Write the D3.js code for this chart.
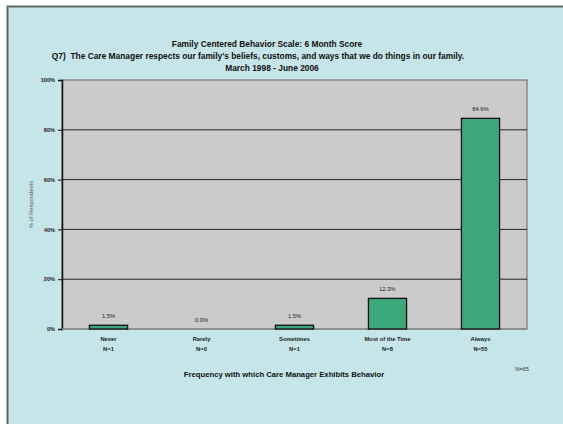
<!DOCTYPE html>
<html>
<head>
<meta charset="utf-8">
<script src="https://cdn.jsdelivr.net/npm/d3@7"></script>
<style>
  html, body { margin: 0; padding: 0; background: #ffffff; }
  svg { display: block; font-family: "Liberation Sans", Arial, sans-serif; }
  text { white-space: pre; }
</style>
</head>
<body>
<svg id="chart" width="563" height="424"></svg>
<script>
// Response categories and results
const categories = ["Never", "Rarely", "Sometimes", "Most of the Time", "Always"];
const counts = [1, 0, 1, 8, 55];
const percents = [1.5, 0.0, 1.5, 12.3, 84.6];
const yTicks = [0, 20, 40, 60, 80, 100];
const titleLines = [
  "Family Centered Behavior Scale: 6 Month Score",
  "Q7)  The Care Manager respects our family's beliefs, customs, and ways that we do things in our family.",
  "March 1998 - June 2006"
];
const xTitle = "Frequency with which Care Manager Exhibits Behavior";
const yTitle = "% of Respondents";
const totalLabel = "N=65";

const svg = d3.select("#chart");
const W = 563, H = 424;
const plot = { left: 62, right: 527, top: 80, bottom: 329 };

// Outer panel
svg.append("rect").attr("x", 0).attr("y", 0).attr("width", W).attr("height", H).attr("fill", "#ffffff");
svg.append("rect")
  .attr("x", 7.5).attr("y", 6.5).attr("width", W + 10).attr("height", H + 10)
  .attr("fill", "#c6e5e8").attr("stroke", "#5b6b6b").attr("stroke-width", 2);

// Titles
const titleG = svg.append("g").attr("font-weight", "bold").attr("font-size", 8.4).attr("fill", "#111")
  .attr("text-anchor", "middle");
const titleX = [267, 258, 272];
const titleY = [44, 56, 68];
titleLines.forEach((t, i) => {
  titleG.append("text").attr("x", titleX[i]).attr("y", titleY[i]).attr("dy", "0.35em").text(t);
});

// Scales
const x = d3.scaleBand().domain(categories).range([plot.left, plot.right])
  .paddingInner(0.59).paddingOuter(0.295);
const y = d3.scaleLinear().domain([0, 100]).range([plot.bottom, plot.top]);

// Plot area
svg.append("rect")
  .attr("x", plot.left).attr("y", plot.top)
  .attr("width", plot.right - plot.left).attr("height", plot.bottom - plot.top)
  .attr("fill", "#cbcbcb").attr("stroke", "#8a8a8a").attr("stroke-width", 1.5);

// Gridlines
svg.append("g").selectAll("line").data(yTicks.filter(d => d > 0 && d < 100)).join("line")
  .attr("x1", plot.left).attr("x2", plot.right)
  .attr("y1", d => y(d)).attr("y2", d => y(d))
  .attr("stroke", "#222").attr("stroke-width", 1);

// Y axis
const yAxis = d3.axisLeft(y).tickValues(yTicks).tickFormat(d => d + "%").tickSize(4).tickPadding(3);
const yg = svg.append("g").attr("transform", `translate(${plot.left},0)`).call(yAxis);
yg.select(".domain").attr("stroke", "#111").attr("stroke-width", 1.5);
yg.selectAll(".tick line").attr("stroke", "#111");
yg.selectAll("text").attr("font-size", 5.6).attr("font-weight", "bold").attr("fill", "#222")
  .attr("font-family", "Liberation Sans, Arial, sans-serif");

// Baseline
svg.append("line").attr("x1", plot.left).attr("x2", plot.right)
  .attr("y1", plot.bottom).attr("y2", plot.bottom)
  .attr("stroke", "#8a8a8a").attr("stroke-width", 1.5);

// Bars
svg.append("g").selectAll("rect").data(categories).join("rect")
  .attr("x", d => x(d))
  .attr("y", (d, i) => y(percents[i]))
  .attr("width", x.bandwidth())
  .attr("height", (d, i) => y(0) - y(percents[i]))
  .attr("fill", "#3ca77b").attr("stroke", "#111").attr("stroke-width", 1.3)
  .attr("display", (d, i) => percents[i] > 0 ? null : "none");

// Value labels
svg.append("g").selectAll("text").data(categories).join("text")
  .attr("x", d => x(d) + x.bandwidth() / 2)
  .attr("y", (d, i) => y(percents[i]) - 9)
  .attr("dy", "0.35em")
  .attr("text-anchor", "middle").attr("font-size", 5.8).attr("fill", "#222")
  .text((d, i) => percents[i].toFixed(1) + "%");

// Category labels with counts
const catG = svg.append("g").attr("text-anchor", "middle").attr("font-size", 5.8)
  .attr("font-weight", "bold").attr("fill", "#222");
categories.forEach((c, i) => {
  const cx = x(c) + x.bandwidth() / 2;
  catG.append("text").attr("x", cx).attr("y", 339).attr("dy", "0.35em").text(c);
  catG.append("text").attr("x", cx).attr("y", 349).attr("dy", "0.35em").text("N=" + counts[i]);
});

// Axis titles
svg.append("text").attr("x", 284).attr("y", 374).attr("dy", "0.35em")
  .attr("text-anchor", "middle").attr("font-size", 7.7).attr("font-weight", "bold").attr("fill", "#111")
  .text(xTitle);
svg.append("text").attr("transform", "translate(31,204.5) rotate(-90)").attr("dy", "0.35em")
  .attr("text-anchor", "middle").attr("font-size", 5.8).attr("fill", "#555")
  .text(yTitle);

// Total respondents
svg.append("text").attr("x", 522).attr("y", 369).attr("dy", "0.35em")
  .attr("text-anchor", "middle").attr("font-size", 5.6).attr("fill", "#333")
  .text(totalLabel);
</script>
</body>
</html>
